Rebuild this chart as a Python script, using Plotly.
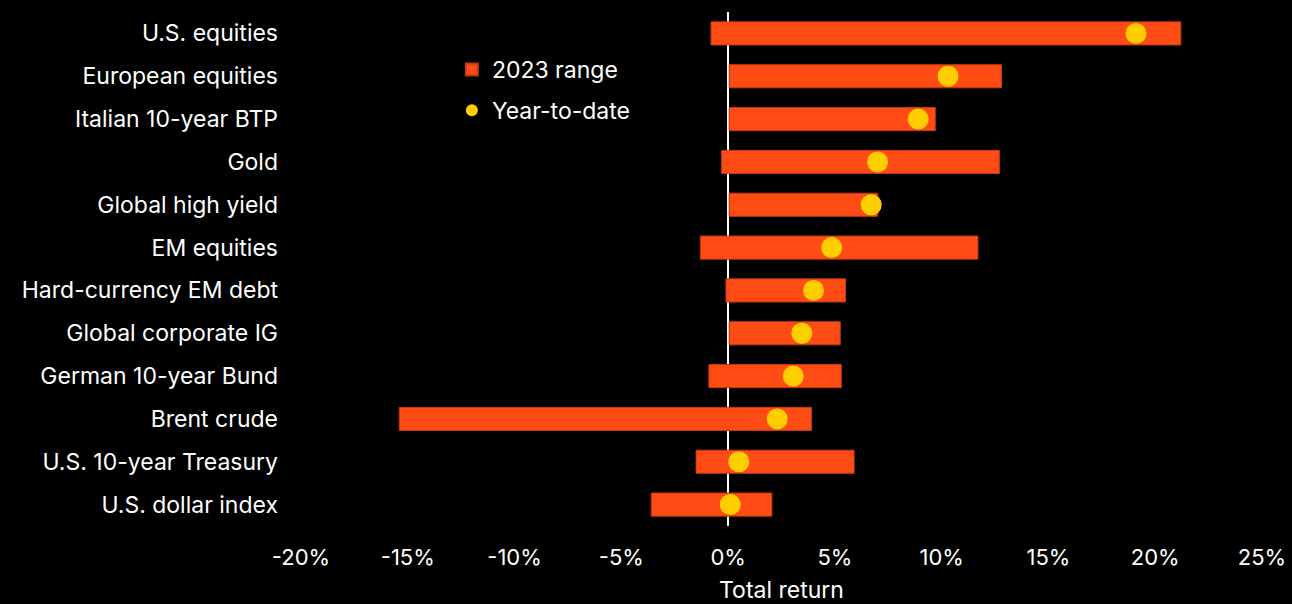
import plotly.graph_objects as go

categories = [
    "U.S. equities", "European equities", "Italian 10-year BTP", "Gold",
    "Global high yield", "EM equities", "Hard-currency EM debt",
    "Global corporate IG", "German 10-year Bund", "Brent crude",
    "U.S. 10-year Treasury", "U.S. dollar index",
]
range_low = [-0.8, 0.05, 0.05, -0.3, 0.05, -1.3, -0.1, 0.05, -0.9, -15.4, -1.5, -3.6]
range_high = [21.2, 12.8, 9.7, 12.7, 7.0, 11.7, 5.5, 5.25, 5.3, 3.9, 5.9, 2.05]
ytd = [19.1, 10.3, 8.9, 7.0, 6.7, 4.85, 4.0, 3.45, 3.05, 2.3, 0.5, 0.1]
x_ticks = [-20, -15, -10, -5, 0, 5, 10, 15, 20, 25]

ORANGE = "#FF4B14"
YELLOW = "#FFCE00"
FONT = "Inter"

fig = go.Figure()
fig.add_trace(go.Bar(
    y=categories,
    x=[h - l for l, h in zip(range_low, range_high)],
    base=range_low,
    orientation="h",
    name="2023 range",
    legendgroup="range",
    marker=dict(color=ORANGE, line=dict(color="#C43A10", width=1)),
    width=0.54,
))
fig.add_trace(go.Scatter(
    y=categories,
    x=ytd,
    mode="markers",
    name="Year-to-date",
    legendgroup="ytd",
    marker=dict(color=YELLOW, size=21, line=dict(width=0)),
))

n = len(categories)
fig.update_layout(
    width=1292, height=604,
    paper_bgcolor="black", plot_bgcolor="black",
    margin=dict(l=301, r=30, t=12, b=78),
    font=dict(family=FONT, size=23, color="white"),
    showlegend=True,
    legend=dict(
        x=0.157, y=0.93, xanchor="left", yanchor="top",
        bgcolor="rgba(0,0,0,0)", font=dict(size=23, color="white"),
        itemsizing="constant", tracegroupgap=8,
    ),
    xaxis=dict(
        range=[-20, 25], tickvals=x_ticks,
        ticktext=[f"{v}%" for v in x_ticks],
        showgrid=False, zeroline=True, zerolinecolor="white", zerolinewidth=2,
        layer="above traces", automargin=False,
        ticks="", ticklabelstandoff=16, tickfont=dict(size=22),
        title=dict(text="Total return", font=dict(size=23, color="white"), standoff=19),
        fixedrange=True,
    ),
    yaxis=dict(
        range=[n - 0.5, -0.5], showgrid=False, zeroline=False, ticks="",
        ticklabelstandoff=22, fixedrange=True, automargin=False,
        tickfont=dict(size=23),
    ),
)

fig.write_html("out.html")
